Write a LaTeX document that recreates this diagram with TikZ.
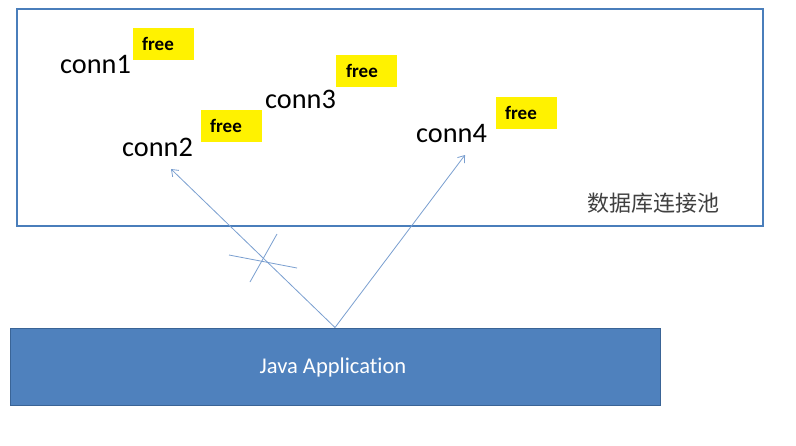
\documentclass[tikz,border=0pt]{standalone}
\usepackage{fontspec}
\setmainfont{Carlito}[Ligatures=NoCommon]
\newfontfamily\cjk{Noto Sans CJK SC}
\usetikzlibrary{arrows.meta}
\definecolor{poolblue}{HTML}{4A7EBB}
\definecolor{appfill}{HTML}{4F81BD}
\definecolor{appdraw}{HTML}{3A6496}
\definecolor{arrowblue}{HTML}{7A9FD0}
\definecolor{freeyellow}{HTML}{FFF200}
\definecolor{cntext}{HTML}{404040}
\tikzset{
  poolbox/.style={draw=poolblue, line width=2pt, fill=white, inner sep=0pt},
  appbox/.style={draw=appdraw, line width=1pt, fill=appfill, inner sep=0pt},
  connlabel/.style={anchor=base west, inner sep=0pt, font=\fontsize{28.3}{30}\selectfont},
  freebox/.style={fill=freeyellow, inner sep=0pt, minimum width=61pt, minimum height=32pt, anchor=north west},
  freetext/.style={anchor=base west, inner sep=0pt, font=\fontsize{19}{21}\selectfont\bfseries},
  link/.style={draw=arrowblue, line width=0.8pt, -{Straight Barb[length=6pt,width=9pt]}},
  crossline/.style={draw=arrowblue, line width=0.8pt}
}
\begin{document}
\begin{tikzpicture}[x=1pt,y=-1pt]
\useasboundingbox (0,0) rectangle (796,445);
\fill[white] (0,0) rectangle (796,445);
% pool box
\node[poolbox, minimum width=746pt, minimum height=217pt] (pool) at (389.5,117) {};
\node[anchor=west, inner sep=0pt, text=cntext, font=\cjk\fontsize{22}{24}\selectfont] (poolname) at (587,203) {数据库连接池};
% free boxes
\node[freebox] (f1) at (133,28) {};
\node[freetext] (f1t) at (142,50) {free};
\node[freebox] (f2) at (201,110) {};
\node[freetext] (f2t) at (210,132) {free};
\node[freebox] (f3) at (336,55) {};
\node[freetext] (f3t) at (346,77) {free};
\node[freebox] (f4) at (496,97) {};
\node[freetext] (f4t) at (505,119) {free};
% connection labels
\node[connlabel] (c1) at (60,73) {conn1};
\node[connlabel] (c2) at (122,156) {conn2};
\node[connlabel] (c3) at (265,108) {conn3};
\node[connlabel] (c4) at (416,142) {conn4};
% app box
\node[appbox, minimum width=650pt, minimum height=77pt] (app) at (335,366.5) {};
\node[text=white, inner sep=0pt, font=\fontsize{22.5}{24}\selectfont] (apptext) at (333,367) {Java Application};
% connectors
\coordinate (c2tip) at (171,169);
\coordinate (c4tip) at (465,155);
\draw[link] (app.north) -- (c2tip);
\draw[link] (app.north) -- (c4tip);
% cross mark
\draw[crossline] (229,255) -- (297,268);
\draw[crossline] (277,234) -- (250,282);
\end{tikzpicture}
\end{document}
